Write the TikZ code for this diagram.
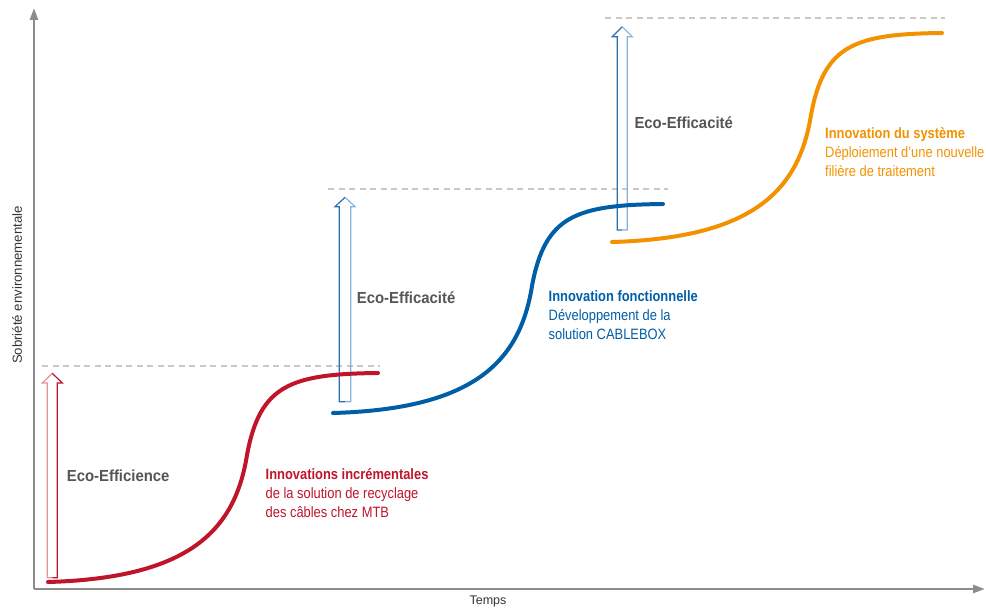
\documentclass[tikz,border=0pt]{standalone}
\usepackage{fontspec}
\setmainfont{Liberation Sans}
\usetikzlibrary{arrows.meta}
\definecolor{axisgray}{HTML}{8C8C8C}
\definecolor{dashgray}{HTML}{C8C8C8}
\definecolor{redc}{HTML}{C0142A}
\definecolor{redlight}{HTML}{E3949A}
\definecolor{bluec}{HTML}{005EA6}
\definecolor{bluedark}{HTML}{2C6FB0}
\definecolor{bluelight}{HTML}{84B2DA}
\definecolor{orangec}{HTML}{F39200}
\definecolor{ecogray}{HTML}{555555}
\definecolor{labgray}{HTML}{333333}
\newcommand{\hollowarrow}[8]{%
  % #1 cx, #2 bottom, #3 head base, #4 tip, #5 half shaft, #6 half head, #7 left col, #8 right col
  \draw[arrowline,#7] (#1,#2) -- (#1-#5,#2) -- (#1-#5,#3) -- (#1-#6,#3) -- (#1,#4);
  \draw[arrowline,#8] (#1,#2) -- (#1+#5,#2) -- (#1+#5,#3) -- (#1+#6,#3) -- (#1,#4);
}
\newcommand{\scurve}[3]{%
  \draw[curve,#3] (48+#1,582+#2) .. controls (190+#1,578+#2) and (235+#1,530+#2) ..
    (247+#1,455+#2) .. controls (260+#1,385+#2) and (290+#1,374+#2) .. (378+#1,373+#2);
}
\newcommand{\threelines}[3]{\scalebox{0.86}[1]{\begin{tabular}[t]{@{}l@{}}\textbf{#1}\\#2\\#3\end{tabular}}}
\begin{document}
\begin{tikzpicture}[x=1pt,y=-1pt,
  axis/.style={draw=axisgray,line width=2.5pt,-{Triangle[length=12pt,width=8pt]}},
  guide/.style={draw=dashgray,line width=2.5pt,dash pattern=on 6pt off 4.5pt},
  arrowline/.style={line width=1.2pt,line join=miter},
  curve/.style={line width=4pt,line cap=round},
  innolbl/.style={inner sep=0pt,anchor=base west,font=\fontsize{15}{19}\selectfont},
  ecolbl/.style={inner sep=0pt,anchor=base west,text=ecogray,font=\fontsize{16}{19}\selectfont\bfseries}
]
\useasboundingbox (0,0) rectangle (986,612);
% axes
\coordinate (O) at (34,589);
\coordinate (ytop) at (34,8);
\coordinate (xend) at (985,589);
\draw[axis] (O) -- (ytop);
\draw[axis] (O) -- (xend);
\node[rotate=90,inner sep=0pt,text=labgray,font=\fontsize{13.2}{16}\selectfont] (ylbl) at (17,285) {Sobriété environnementale};
\node[inner sep=0pt,text=labgray,font=\fontsize{12.5}{15}\selectfont] (xlbl) at (488,601) {Temps};
% dashed guide lines
\coordinate (d1a) at (42,366); \coordinate (d1b) at (380,366);
\coordinate (d2a) at (328,189); \coordinate (d2b) at (668,189);
\coordinate (d3a) at (605,18); \coordinate (d3b) at (945,18);
\draw[guide] (d1a) -- (d1b);
\draw[guide] (d2a) -- (d2b);
\draw[guide] (d3a) -- (d3b);
% hollow arrows
\hollowarrow{52.3}{577.7}{383}{373.3}{5}{10}{redlight}{redc}
\hollowarrow{345}{401.7}{206.7}{197.3}{5.7}{10}{bluedark}{bluelight}
\hollowarrow{622.3}{230}{36.7}{26.7}{5}{10}{bluedark}{bluelight}
% curves
\scurve{0}{0}{redc}
\scurve{285}{-169}{bluec}
\scurve{564}{-340}{orangec}
% labels
\node[ecolbl] (eco1) at (66.7,481) {\scalebox{0.93}[1]{Eco-Efficience}};
\node[ecolbl] (eco2) at (356.7,304) {\scalebox{0.93}[1]{Eco-Efficacité}};
\node[ecolbl] (eco3) at (634.3,129) {\scalebox{0.93}[1]{Eco-Efficacité}};
\node[innolbl,text=redc] (redlbl) at (265.5,479) {\threelines{Innovations incrémentales}{de la solution de recyclage}{des câbles chez MTB}};
\node[innolbl,text=bluec] (bluelbl) at (548.5,302) {\threelines{Innovation fonctionnelle}{Développement de la}{solution CABLEBOX}};
\node[innolbl,text=orangec] (orglbl) at (825,138.5) {\threelines{Innovation du système}{Déploiement d’une nouvelle}{filière de traitement}};
\end{tikzpicture}
\end{document}
